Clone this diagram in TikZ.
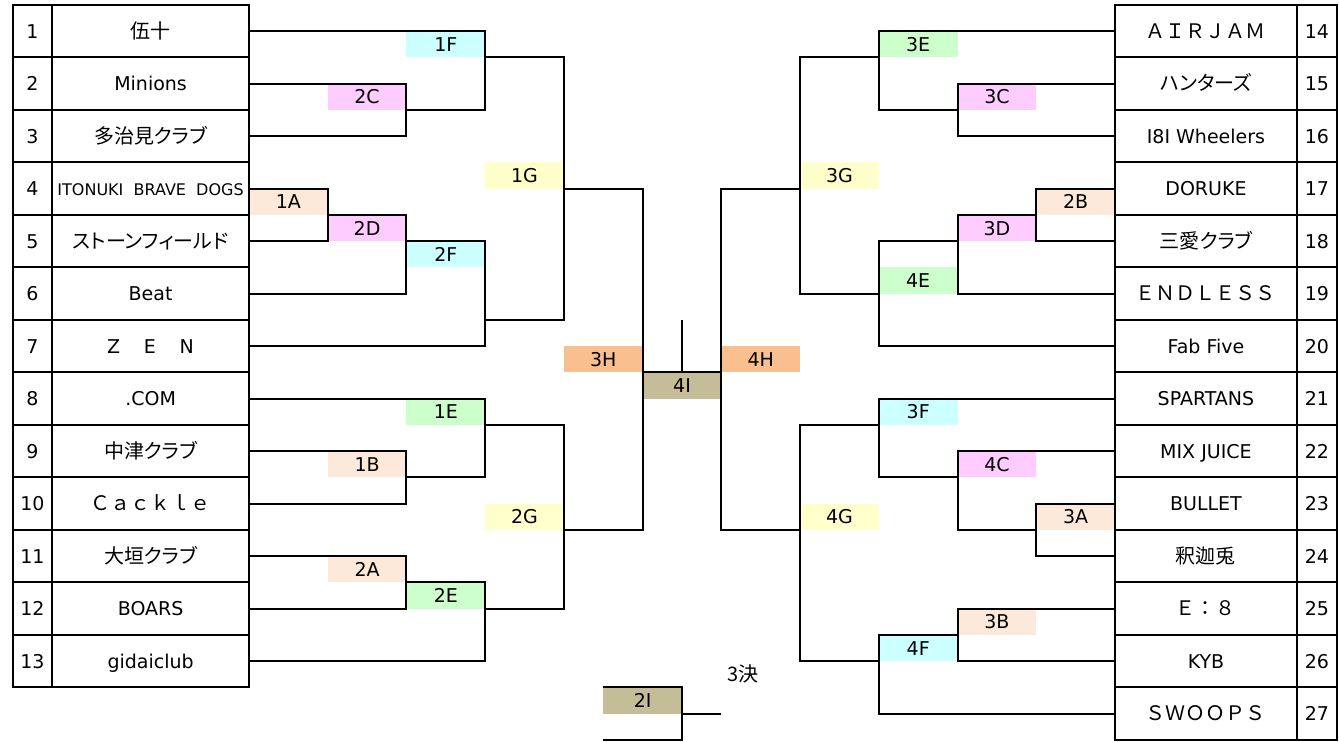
\documentclass[tikz,border=0pt]{standalone}
\usepackage{fontspec}
\setmainfont{DejaVu Sans}
\newfontfamily\jpfont{Noto Sans CJK JP}
\newfontfamily\jpprop{Noto Sans CJK JP}[RawFeature=+palt]
\definecolor{boxcyan}{HTML}{CCFFFF}
\definecolor{boxpink}{HTML}{FFCCFF}
\definecolor{boxpeach}{HTML}{FDE9D9}
\definecolor{boxyellow}{HTML}{FFFFCC}
\definecolor{boxgreen}{HTML}{CCFFCC}
\definecolor{boxorange}{HTML}{FABF8F}
\definecolor{boxkhaki}{HTML}{C4BD97}

\begin{document}
\begin{tikzpicture}[x=78.73pt,y=-26.25pt,line width=2pt,
  txt/.style={inner sep=0pt,text height=14pt,text depth=0pt,font=\fontsize{19}{19}\selectfont},
  jptxt/.style={txt,font=\fontsize{20}{20}\selectfont\jpprop},
  widetxt/.style={txt,font=\fontsize{20}{20}\selectfont\jpfont}]
\useasboundingbox (-3.1627,-0.1905) rectangle (13.845,28.076);
% match boxes
\fill[boxcyan] (2,1) rectangle (3,2);
\fill[boxpink] (1,3) rectangle (2,4);
\fill[boxyellow] (3,6) rectangle (4,7);
\fill[boxpeach] (0,7) rectangle (1,8);
\fill[boxpink] (1,8) rectangle (2,9);
\fill[boxcyan] (2,9) rectangle (3,10);
\fill[boxorange] (4,13) rectangle (5,14);
\fill[boxkhaki] (5,14) rectangle (6,15);
\fill[boxorange] (6,13) rectangle (7,14);
\fill[boxgreen] (2,15) rectangle (3,16);
\fill[boxpeach] (1,17) rectangle (2,18);
\fill[boxyellow] (3,19) rectangle (4,20);
\fill[boxpeach] (1,21) rectangle (2,22);
\fill[boxgreen] (2,22) rectangle (3,23);
\fill[boxgreen] (8,1) rectangle (9,2);
\fill[boxpink] (9,3) rectangle (10,4);
\fill[boxyellow] (7,6) rectangle (8,7);
\fill[boxpeach] (10,7) rectangle (11,8);
\fill[boxpink] (9,8) rectangle (10,9);
\fill[boxgreen] (8,10) rectangle (9,11);
\fill[boxcyan] (8,15) rectangle (9,16);
\fill[boxpink] (9,17) rectangle (10,18);
\fill[boxpeach] (10,19) rectangle (11,20);
\fill[boxyellow] (7,19) rectangle (8,20);
\fill[boxpeach] (9,23) rectangle (10,24);
\fill[boxcyan] (8,24) rectangle (9,25);
\fill[boxkhaki] (4.5,26) rectangle (5.5,27);
\node[txt] (m1F) at (2.5,1.5) {1F};
\node[txt] (m2C) at (1.5,3.5) {2C};
\node[txt] (m1G) at (3.5,6.5) {1G};
\node[txt] (m1A) at (0.5,7.5) {1A};
\node[txt] (m2D) at (1.5,8.5) {2D};
\node[txt] (m2F) at (2.5,9.5) {2F};
\node[txt] (m3H) at (4.5,13.5) {3H};
\node[txt] (m4I) at (5.5,14.5) {4I};
\node[txt] (m4H) at (6.5,13.5) {4H};
\node[txt] (m1E) at (2.5,15.5) {1E};
\node[txt] (m1B) at (1.5,17.5) {1B};
\node[txt] (m2G) at (3.5,19.5) {2G};
\node[txt] (m2A) at (1.5,21.5) {2A};
\node[txt] (m2E) at (2.5,22.5) {2E};
\node[txt] (m3E) at (8.5,1.5) {3E};
\node[txt] (m3C) at (9.5,3.5) {3C};
\node[txt] (m3G) at (7.5,6.5) {3G};
\node[txt] (m2B) at (10.5,7.5) {2B};
\node[txt] (m3D) at (9.5,8.5) {3D};
\node[txt] (m4E) at (8.5,10.5) {4E};
\node[txt] (m3F) at (8.5,15.5) {3F};
\node[txt] (m4C) at (9.5,17.5) {4C};
\node[txt] (m3A) at (10.5,19.5) {3A};
\node[txt] (m4G) at (7.5,19.5) {4G};
\node[txt] (m3B) at (9.5,23.5) {3B};
\node[txt] (m4F) at (8.5,24.5) {4F};
\node[txt] (m2I) at (5,26.5) {2I};
\node[jptxt,anchor=west] (third) at (6.07,25.5) {3決};
% team tables
\draw (-3,0) rectangle (0,26);
\draw (-2.5,0) -- (-2.5,26);
\foreach \r in {2,4,...,24} \draw (-3,\r) -- (0,\r);
\draw (11,0) rectangle (13.82,28);
\draw (13.31,0) -- (13.31,28);
\foreach \r in {2,4,...,26} \draw (11,\r) -- (13.82,\r);
\foreach \n in {1,...,13} \node[txt] (n\n) at (-2.75,2*\n-1) {\n};
\foreach \n in {14,...,27} \node[txt] (n\n) at (13.565,2*\n-27) {\n};
\node[widetxt] (t1) at (-1.25,1) {伍十};
\node[txt] (t2) at (-1.25,3) {Minions};
\node[jptxt] (t3) at (-1.25,5) {多治見クラブ};
\node[txt,font=\fontsize{16}{16}\selectfont] (t4) at (-1.25,7) {ITONUKI\ \ BRAVE\ \ DOGS};
\node[jptxt] (t5) at (-1.25,9) {ストーンフィールド};
\node[txt] (t6) at (-1.25,11) {Beat};
\node[txt] (t7) at (-1.25,13) {Z\hspace{1.25em}E\hspace{1.25em}N};
\node[txt] (t8) at (-1.25,15) {.COM};
\node[jptxt] (t9) at (-1.25,17) {中津クラブ};
\node[widetxt] (t10) at (-1.25,19) {Ｃａｃｋｌｅ};
\node[jptxt] (t11) at (-1.25,21) {大垣クラブ};
\node[txt] (t12) at (-1.25,23) {BOARS};
\node[txt] (t13) at (-1.25,25) {gidaiclub};
\node[widetxt] (t14) at (12.155,1) {ＡＩＲＪＡＭ};
\node[jptxt] (t15) at (12.155,3) {ハンターズ};
\node[txt] (t16) at (12.155,5) {I8I Wheelers};
\node[txt] (t17) at (12.155,7) {DORUKE};
\node[jptxt] (t18) at (12.155,9) {三愛クラブ};
\node[widetxt] (t19) at (12.155,11) {ＥＮＤＬＥＳＳ};
\node[txt] (t20) at (12.155,13) {Fab Five};
\node[txt] (t21) at (12.155,15) {SPARTANS};
\node[txt] (t22) at (12.155,17) {MIX JUICE};
\node[txt] (t23) at (12.155,19) {BULLET};
\node[jptxt] (t24) at (12.155,21) {釈迦兎};
\node[widetxt] (t25) at (12.155,23) {Ｅ：８};
\node[txt] (t26) at (12.155,25) {KYB};
\node[widetxt] (t27) at (12.155,27) {ＳＷＯＯＰＳ};
% left bracket
\draw (0,1) -- (3,1) -- (3,4) -- (2,4);
\draw (0,3) -- (2,3) -- (2,5) -- (0,5);
\draw (3,2) -- (4,2) -- (4,12) -- (3,12);
\draw (4,7) -- (5,7) -- (5,20) -- (4,20);
\draw (0,7) -- (1,7) -- (1,9) -- (0,9);
\draw (1,8) -- (2,8) -- (2,11) -- (0,11);
\draw (2,9) -- (3,9) -- (3,13) -- (0,13);
\draw (0,15) -- (3,15) -- (3,18) -- (2,18);
\draw (0,17) -- (2,17) -- (2,19) -- (0,19);
\draw (3,16) -- (4,16) -- (4,23) -- (3,23);
\draw (0,21) -- (2,21) -- (2,23) -- (0,23);
\draw (2,22) -- (3,22) -- (3,25) -- (0,25);
% final
\draw (5,14) -- (6,14);
\draw (5.5,12) -- (5.5,14);
\draw (7,7) -- (6,7) -- (6,20) -- (7,20);
% right bracket
\draw (11,1) -- (8,1) -- (8,4) -- (9,4);
\draw (11,3) -- (9,3) -- (9,5) -- (11,5);
\draw (8,2) -- (7,2) -- (7,11) -- (8,11);
\draw (11,7) -- (10,7) -- (10,9) -- (11,9);
\draw (10,8) -- (9,8) -- (9,11) -- (11,11);
\draw (9,9) -- (8,9) -- (8,13) -- (11,13);
\draw (11,15) -- (8,15) -- (8,18) -- (9,18);
\draw (8,16) -- (7,16) -- (7,25) -- (8,25);
\draw (11,17) -- (9,17) -- (9,20) -- (10,20);
\draw (11,19) -- (10,19) -- (10,21) -- (11,21);
\draw (11,23) -- (9,23) -- (9,25) -- (11,25);
\draw (9,24) -- (8,24) -- (8,27) -- (11,27);
% third place
\draw (4.5,26) -- (5.5,26) -- (5.5,28) -- (4.5,28);
\draw (5.5,27) -- (6,27);
\end{tikzpicture}
\end{document}
